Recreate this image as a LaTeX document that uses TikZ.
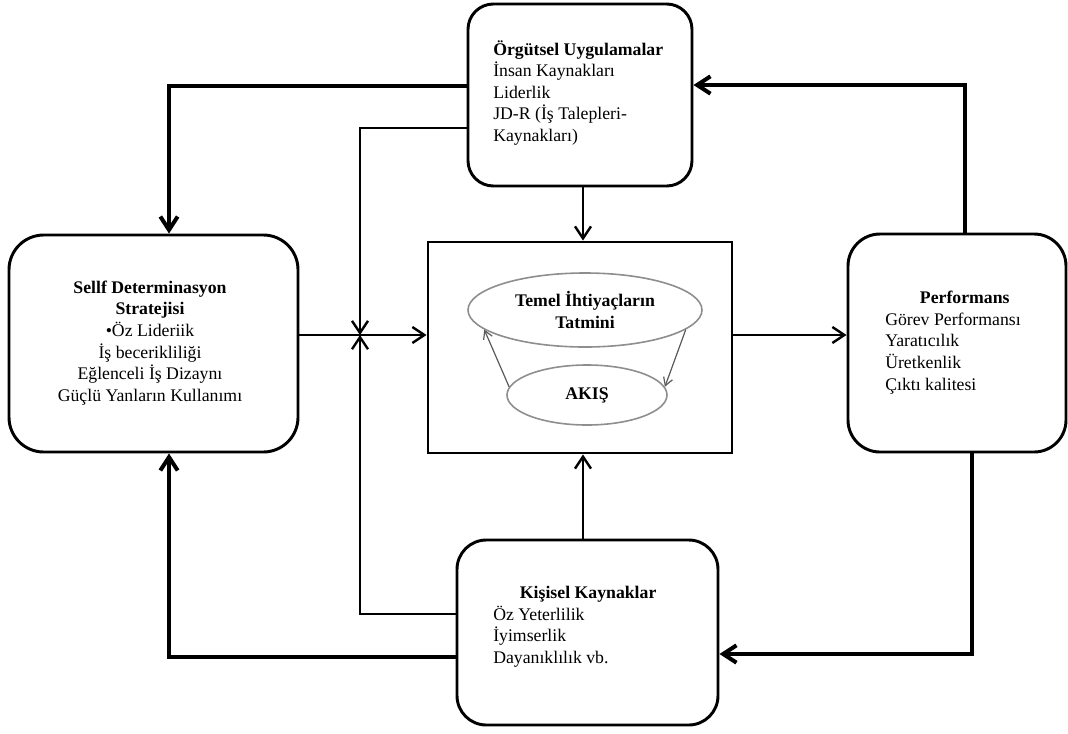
\documentclass[tikz,border=0pt]{standalone}
\usepackage{fontspec}
\setmainfont{Liberation Serif}
\usetikzlibrary{arrows.meta,shapes.geometric}
\definecolor{ellgray}{HTML}{8E8E8E}
\definecolor{arrgray}{HTML}{5A5A5A}
\begin{document}
\begin{tikzpicture}[x=0.75pt,y=-0.75pt,
  box/.style={draw, line width=2.2pt, inner sep=0pt},
  txt/.style={inner sep=0pt, font=\fontsize{13.3pt}{16.2pt}\selectfont},
  thk/.style={line width=3pt, -{Straight Barb[length=10pt,width=13pt]}},
  thn/.style={line width=1.8pt, -{Straight Barb[length=9pt,width=12pt]}},
  ell/.style={draw=ellgray, line width=1.2pt, ellipse, inner sep=0pt, font=\fontsize{13.3pt}{16.2pt}\selectfont\bfseries, align=center},
  inarr/.style={draw=arrgray, line width=0.9pt, -{Straight Barb[length=6pt,width=7pt]}}
]
\useasboundingbox (0,0) rectangle (1068,733);

% boxes
\node[box, rounded corners=19pt, minimum width=168pt, minimum height=136.5pt] (org) at (580,95) {};
\node[box, rounded corners=26pt, minimum width=216.75pt, minimum height=162.75pt] (sdt) at (153.5,343.5) {};
\node[box, minimum width=228pt, minimum height=158.25pt] (ctr) at (580,347.5) {};
\node[box, rounded corners=24pt, minimum width=163.5pt, minimum height=163.5pt] (perf) at (957,343) {};
\node[box, rounded corners=22pt, minimum width=195.75pt, minimum height=138.75pt] (kis) at (587.5,632.5) {};

% texts
\node[txt, align=left, anchor=north west] (orgT) at (493,40)
  {\textbf{Örgütsel Uygulamalar}\\İnsan Kaynakları\\Liderlik\\JD-R (İş Talepleri-\\Kaynakları)};
\node[txt, align=center] (sdtT) at (150,343)
  {\textbf{Sellf Determinasyon}\\\textbf{Stratejisi}\\•Öz Lideriik\\İş becerikliliği\\Eğlenceli İş Dizaynı\\Güçlü Yanların Kullanımı};
\node[txt, align=left, anchor=north west] (perfT) at (885,291)
  {\hspace*{26pt}\textbf{Performans}\\Görev Performansı\\Yaratıcılık\\Üretkenlik\\Çıktı kalitesi};
\node[txt, align=left, anchor=north west] (kisT) at (493,586)
  {\hspace*{20pt}\textbf{Kişisel Kaynaklar}\\Öz Yeterlilik\\İyimserlik\\Dayanıklılık vb.};

% ellipses
\node[ell, minimum width=175.5pt, minimum height=55.5pt] (temel) at (585,310) {Temel İhtiyaçların\\Tatmini};
\node[ell, minimum width=120pt, minimum height=45pt] (akis) at (587,395) {AKIŞ};
\draw[inarr] (akis.174) -- (temel.191);
\draw[inarr] (temel.349) -- (akis.6);

% junction
\coordinate (jn) at (360,335);

% connectors
\draw[thk] (org.west |- 0,86) -| (sdt.north -| 169,0);
\draw[thk] (perf.north -| 965,0) |- (org.east |- 0,85);
\draw[thn] (org.south -| 583,0) -- (ctr.north -| 583,0);
\draw[thn] (org.west |- 0,128) -| (jn);
\draw[thn] (sdt.east |- 0,335) -- (ctr.west |- 0,335);
\draw[thn] (kis.west |- 0,614) -| (jn);
\draw[thn] (kis.north -| 583,0) -- (ctr.south -| 583,0);
\draw[thk] (kis.west |- 0,657) -| (sdt.south -| 169,0);
\draw[thn] (ctr.east |- 0,335) -- (perf.west |- 0,335);
\draw[thk] (perf.south -| 972,0) |- (kis.east |- 0,654);
\end{tikzpicture}
\end{document}
